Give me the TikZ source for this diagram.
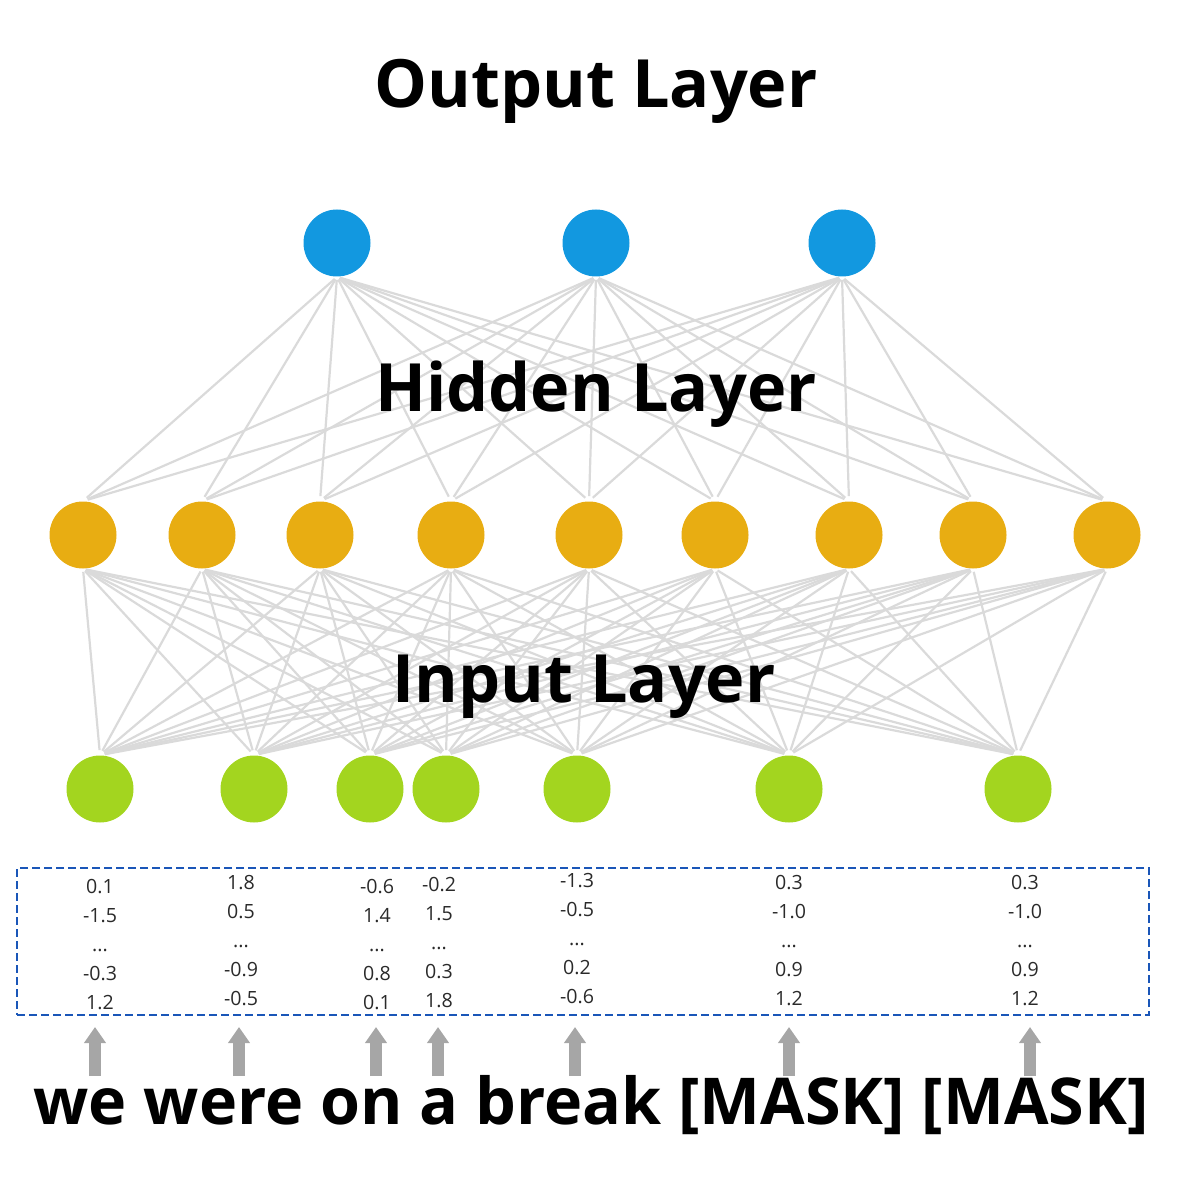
\documentclass[tikz,border=0pt]{standalone}
\usepackage{fontspec}
\setmainfont{Open Sans}
\usetikzlibrary{arrows.meta}
\definecolor{NetBlue}{HTML}{1298E0}
\definecolor{NetOrange}{HTML}{E8AD12}
\definecolor{NetGreen}{HTML}{A3D51F}
\definecolor{NetEdge}{HTML}{DADADA}
\definecolor{NetArrow}{HTML}{A6A6A6}
\definecolor{NetDash}{HTML}{1A56B8}
\definecolor{NetText}{HTML}{2A2A2A}
\tikzset{
  neuron/.style={circle, minimum size=33.5pt, inner sep=0pt},
  outn/.style={neuron, fill=NetBlue},
  hidn/.style={neuron, fill=NetOrange},
  inn/.style={neuron, fill=NetGreen},
  edge/.style={draw=NetEdge, line width=1.1pt, shorten <=1.5pt, shorten >=2.5pt},
  layerlabel/.style={font=\fontsize{33.3}{40}\selectfont\bfseries, anchor=base, inner sep=0pt},
  vec/.style={font=\fontsize{9.8}{14.5}\selectfont, text=NetText, align=center, anchor=north, inner sep=0pt},
  vecbox/.style={draw=NetDash, dash pattern=on 4pt off 2pt, line width=0.9pt, inner sep=0pt},
  tokarrow/.style={-{Triangle[width=10.5pt,length=8pt]}, line width=6.3pt, draw=NetArrow},
}
\begin{document}
\begin{tikzpicture}[x=0.5pt,y=-0.5pt]
  \useasboundingbox (0,0) rectangle (1181,1181);
  \foreach \x [count=\i] in {337,596,842}
    \node[outn] (o\i) at (\x,243) {};
  \foreach \x [count=\i] in {83,202,320,451,589,715,849,973,1107}
    \node[hidn] (h\i) at (\x,535) {};
  \foreach \x [count=\i] in {100,254,370,446,577,789,1018}
    \node[inn] (n\i) at (\x,789) {};
  \foreach \i in {1,...,3}
    \foreach \j in {1,...,9}
      \draw[edge] (o\i.south) -- (h\j.north);
  \foreach \i in {1,...,9}
    \foreach \j in {1,...,7}
      \draw[edge] (h\i.south) -- (n\j.north);
  \node[layerlabel] (outlbl) at (596,108) {Output Layer};
  \node[layerlabel] (hidlbl) at (596,411) {Hidden Layer};
  \node[layerlabel] (inlbl) at (584,702) {Input Layer};
  \node[vecbox, minimum width=566pt, minimum height=73.5pt] (vecs) at (583,941.5) {};
  \foreach \x/\y/\v [count=\i] in {100/879/{0.1\\-1.5\\...\\-0.3\\1.2},
      241/875/{1.8\\0.5\\...\\-0.9\\-0.5}, 377/879/{-0.6\\1.4\\...\\0.8\\0.1},
      439/877/{-0.2\\1.5\\...\\0.3\\1.8}, 577/873/{-1.3\\-0.5\\...\\0.2\\-0.6},
      789/875/{0.3\\-1.0\\...\\0.9\\1.2}, 1025/875/{0.3\\-1.0\\...\\0.9\\1.2}}
    \node[vec] (v\i) at (\x,\y) {\v};
  \foreach \x [count=\i] in {95,239,376,438,575,789,1030} {
    \coordinate (tb\i) at (\x,1076);
    \coordinate (tt\i) at (\x,1027);
    \draw[tokarrow] (tb\i) -- (tt\i);
  }
  \node[layerlabel, font=\fontsize{32.3}{38}\selectfont\bfseries] (sent) at (591,1124)
    {we were on a break [MASK] [MASK]};
\end{tikzpicture}
\end{document}
